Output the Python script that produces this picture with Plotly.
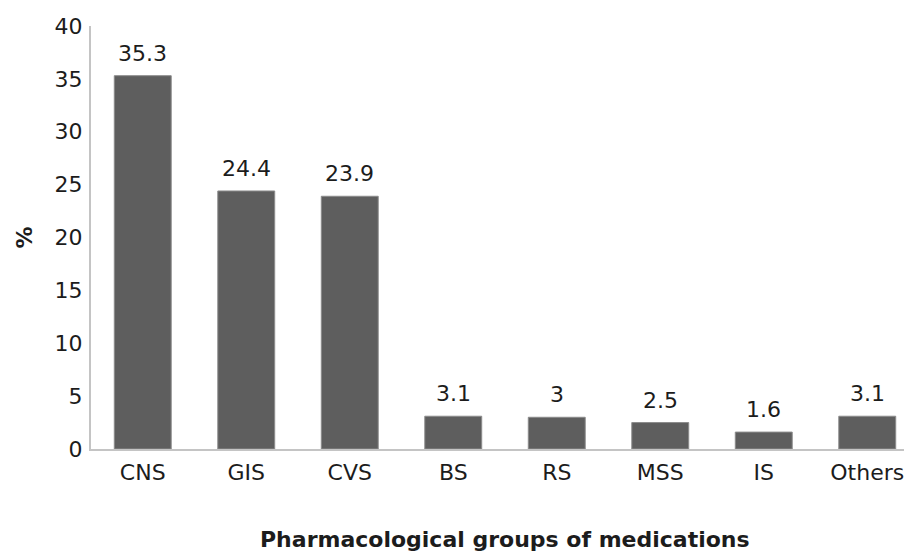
import plotly.graph_objects as go

# Share of prescribed medications by pharmacological group (%)
groups = ["CNS", "GIS", "CVS", "BS", "RS", "MSS", "IS", "Others"]
shares = [35.3, 24.4, 23.9, 3.1, 3.0, 2.5, 1.6, 3.1]
value_labels = ["35.3", "24.4", "23.9", "3.1", "3", "2.5", "1.6", "3.1"]
y_ticks = [0, 5, 10, 15, 20, 25, 30, 35, 40]

FONT = "DejaVu Sans"
TEXT = "#1c1c1c"
BAR = "#5e5e5e"
AXIS = "#c4c4c4"

fig = go.Figure()
fig.add_trace(go.Bar(
    x=groups,
    y=shares,
    marker=dict(color=BAR, line=dict(color="#8c8c8c", width=1)),
    hoverinfo="x+y",
))

# value labels sitting above each bar
for g, v, t in zip(groups, shares, value_labels):
    fig.add_annotation(
        x=g, y=v, text=t, showarrow=False,
        xref="x", yref="y", yanchor="bottom", yshift=8,
        font=dict(family=FONT, size=22, color=TEXT),
    )

# x-axis title
fig.add_annotation(
    text="<b>Pharmacological groups of medications</b>",
    xref="paper", yref="paper", x=0.509, y=-0.215,
    xanchor="center", yanchor="middle", showarrow=False,
    font=dict(family=FONT, size=22, color=TEXT),
)

fig.update_layout(
    width=904, height=551,
    margin=dict(l=91, r=0, t=26, b=102),
    paper_bgcolor="white", plot_bgcolor="white",
    bargap=0.45,
    showlegend=False,
    font=dict(family=FONT, size=22, color=TEXT),
)

fig.update_xaxes(
    type="category",
    range=[-0.5, 7.355],
    showgrid=False, zeroline=False,
    showline=True, linecolor=AXIS, linewidth=2,
    ticks="", ticklabelstandoff=3,
    tickfont=dict(family=FONT, size=22, color=TEXT),
)

fig.update_yaxes(
    range=[0, 40],
    tickvals=y_ticks,
    showgrid=False, zeroline=False,
    showline=True, linecolor=AXIS, linewidth=2,
    ticks="", ticklabelstandoff=2,
    tickfont=dict(family=FONT, size=22, color=TEXT),
    title=dict(text="<b>%</b>", standoff=16,
               font=dict(family=FONT, size=22, color=TEXT)),
)

fig.write_html("out.html")
